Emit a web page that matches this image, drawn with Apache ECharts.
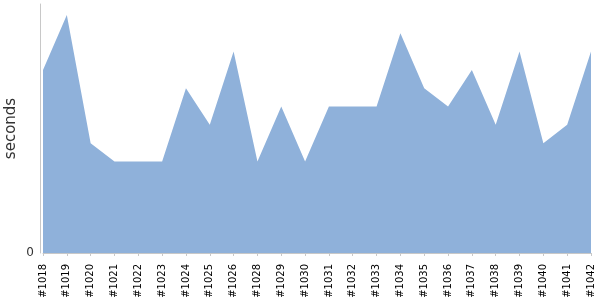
<!DOCTYPE html>
<html>
<head>
<meta charset="utf-8">
<script src="https://cdn.jsdelivr.net/npm/echarts@6/dist/echarts.min.js"></script>
<style>html,body{margin:0;padding:0;background:#fff}#c{width:600px;height:300px}</style>
</head>
<body>
<div id="c"></div>
<script>
var categories = ['#1018','#1019','#1020','#1021','#1022','#1023','#1024','#1025','#1026','#1028','#1029','#1030','#1031','#1032','#1033','#1034','#1035','#1036','#1037','#1038','#1039','#1040','#1041','#1042'];
var seconds = [10,13,6,5,5,5,9,7,11,5,8,5,8,8,8,12,9,8,10,7,11,6,7,11];
var yTicks = [0];

var chart = echarts.init(document.getElementById('c'), null, {renderer: 'canvas'});
chart.setOption({
  animation: false,
  grid: {left: 43, right: 9, top: 4, bottom: 47, containLabel: false, outerBoundsMode: 'none'},
  xAxis: {
    type: 'category',
    data: categories,
    boundaryGap: false,
    offset: 4,
    axisLine: {show: true, lineStyle: {color: '#c8c8c8', width: 1}},
    axisTick: {show: true, length: 3, lineStyle: {color: '#c8c8c8'}},
    axisLabel: {rotate: 90, interval: 0, margin: 7, color: '#000', fontSize: 10, fontFamily: 'DejaVu Sans'},
    splitLine: {show: false}
  },
  yAxis: {
    type: 'value',
    min: 0,
    max: 13.6,
    interval: 13.6,
    offset: 3,
    name: 'seconds',
    nameLocation: 'middle',
    nameRotate: 90,
    nameGap: 21,
    nameMoveOverlap: false,
    nameTextStyle: {color: '#333', fontSize: 15, fontFamily: 'DejaVu Sans'},
    axisLine: {show: true, lineStyle: {color: '#c8c8c8', width: 1}},
    axisTick: {show: false},
    axisLabel: {color: '#333', fontSize: 12, fontFamily: 'DejaVu Sans', margin: 6,
      formatter: function (v) { return yTicks.indexOf(v) >= 0 ? String(v) : ''; }},
    splitLine: {show: false}
  },
  series: [{
    type: 'line',
    data: seconds,
    symbol: 'none',
    lineStyle: {width: 0},
    areaStyle: {color: '#8FB1DA', opacity: 1}
  }]
});
</script>
</body>
</html>
